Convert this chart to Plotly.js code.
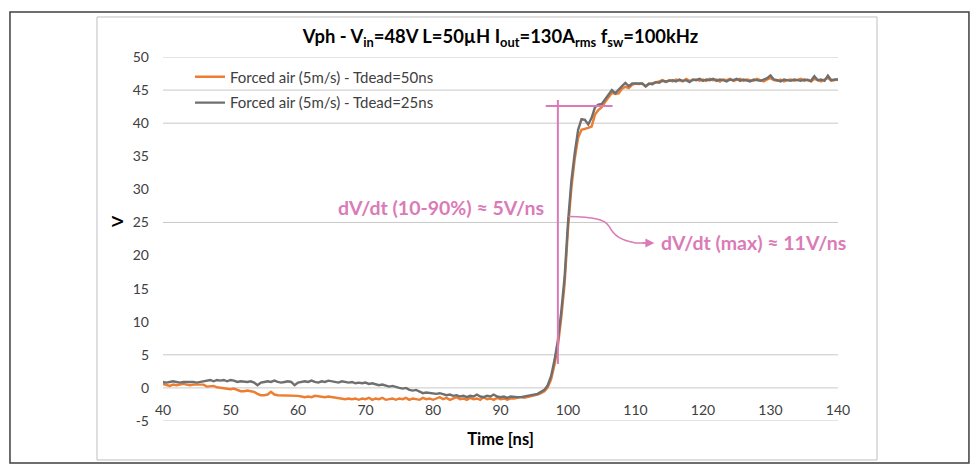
<!DOCTYPE html>
<html>
<head>
<meta charset="utf-8">
<script src="https://cdn.plot.ly/plotly-3.0.1.min.js"></script>
<style>
  html, body { margin: 0; padding: 0; background: #ffffff; }
  #chart { width: 977px; height: 467px; }
</style>
</head>
<body>
<div id="chart"></div>
<script>
// ---- data ----
const time = [
  40,40.5,41,41.5,42,42.5,43,43.5,44,44.5,
  45,45.5,46,46.5,47,47.5,48,48.5,49,49.5,
  50,50.5,51,51.5,52,52.5,53,53.5,54,54.5,
  55,55.5,56,56.5,57,57.5,58,58.5,59,59.5,
  60,60.5,61,61.5,62,62.5,63,63.5,64,64.5,
  65,65.5,66,66.5,67,67.5,68,68.5,69,69.5,
  70,70.5,71,71.5,72,72.5,73,73.5,74,74.5,
  75,75.5,76,76.5,77,77.5,78,78.5,79,79.5,
  80,80.5,81,81.5,82,82.5,83,83.5,84,84.5,
  85,85.5,86,86.5,87,87.5,88,88.5,89,89.5,
  90,90.5,91,91.5,92,92.5,93,93.5,94,94.5,
  95,95.5,96,96.5,97,97.5,98,98.5,99,99.5,
  100,100.5,101,101.5,102,102.5,103,103.5,104,104.5,
  105,105.5,106,106.5,107,107.5,108,108.5,109,109.5,
  110,110.5,111,111.5,112,112.5,113,113.5,114,114.5,
  115,115.5,116,116.5,117,117.5,118,118.5,119,119.5,
  120,120.5,121,121.5,122,122.5,123,123.5,124,124.5,
  125,125.5,126,126.5,127,127.5,128,128.5,129,129.5,
  130,130.5,131,131.5,132,132.5,133,133.5,134,134.5,
  135,135.5,136,136.5,137,137.5,138,138.5,139,139.5,
  140
];

const vTdead50 = [
  0.6,0.5,0.3,0.5,0.4,0.5,0.6,0.5,0.4,0.5,
  0.5,0.4,0.5,0.2,0.2,0.3,0.1,0.0,0.0,-0.2,
  -0.2,-0.1,-0.3,-0.5,-0.5,-0.4,-0.5,-0.6,-0.9,-1.1,
  -1.1,-1.0,-0.6,-1.0,-1.1,-1.1,-1.1,-1.2,-1.1,-1.1,
  -1.2,-1.3,-1.4,-1.3,-1.4,-1.2,-1.3,-1.4,-1.4,-1.3,
  -1.4,-1.4,-1.5,-1.6,-1.7,-1.6,-1.7,-1.6,-1.8,-1.6,
  -1.7,-1.5,-1.8,-1.6,-1.7,-1.5,-1.8,-1.7,-1.6,-1.8,
  -1.6,-1.7,-1.5,-1.8,-1.6,-1.7,-1.8,-1.5,-1.7,-1.6,
  -1.8,-1.6,-1.4,-1.7,-1.5,-1.8,-1.6,-1.4,-1.7,-1.6,
  -1.8,-1.5,-1.7,-1.6,-1.8,-1.4,-1.7,-1.6,-1.8,-1.5,
  -1.7,-1.6,-1.8,-1.6,-1.6,-1.5,-1.4,-1.5,-1.4,-1.3,
  -1.2,-1.0,-0.8,-0.5,0.1,1.3,3.5,6.3,10.6,15.7,
  24.0,30.2,34.6,37.8,39.0,39.1,39.3,39.5,41.3,42.0,
  42.4,43.2,44.0,44.6,44.4,44.5,45.2,45.5,45.3,45.8,
  46.0,45.9,46.0,45.5,45.9,46.0,46.2,46.3,46.5,46.2,
  46.5,46.3,46.6,46.5,46.3,46.7,46.4,46.5,46.6,46.4,
  46.6,46.4,46.7,46.5,46.6,46.3,46.6,46.5,46.7,46.4,
  46.5,46.7,46.4,46.6,46.5,46.4,46.7,46.5,46.3,46.6,
  46.8,46.5,46.4,46.6,46.3,46.5,46.6,46.4,46.5,46.7,
  46.4,46.6,46.3,46.7,46.5,46.3,46.6,46.8,46.4,46.5,
  46.6
];

const vTdead25 = [
  0.9,0.8,0.9,1.0,0.9,0.8,0.9,0.9,1.0,0.9,
  0.8,0.9,0.9,1.1,1.2,1.0,1.2,1.1,1.2,1.0,
  1.2,1.1,0.9,1.0,0.9,0.9,1.0,0.8,0.4,0.8,
  0.9,1.0,0.9,1.1,0.9,0.8,0.9,1.0,0.9,0.4,
  0.8,0.9,1.0,0.9,1.1,0.9,0.8,1.0,0.9,1.1,
  1.0,0.9,0.8,1.0,0.9,0.8,0.9,0.7,0.8,0.7,
  0.8,0.6,0.7,0.5,0.4,0.5,0.3,0.2,0.3,0.1,
  0.0,-0.1,0.0,-0.3,-0.4,-0.3,-0.6,-0.8,-0.7,-0.8,
  -0.8,-0.9,-0.8,-1.0,-1.1,-1.0,-1.2,-1.1,-1.3,-1.2,
  -1.4,-1.2,-1.3,-1.0,-1.3,-1.4,-1.2,-1.3,-1.0,-1.3,
  -1.4,-1.3,-1.5,-1.3,-1.4,-1.4,-1.4,-1.3,-1.3,-1.2,
  -1.0,-0.9,-0.6,-0.3,0.4,1.8,4.2,7.2,11.5,16.8,
  25.0,31.3,35.5,39.0,40.6,40.5,39.8,40.8,42.4,42.8,
  42.9,43.6,44.4,45.0,44.5,45.1,45.6,46.1,45.6,46.0,
  46.0,46.1,46.0,45.6,46.0,45.9,46.2,46.1,46.4,46.3,
  46.4,46.5,46.3,46.6,46.4,46.5,46.2,46.6,46.5,46.7,
  46.4,46.6,46.5,46.7,46.4,46.6,46.5,46.3,46.6,46.5,
  46.7,46.4,46.6,46.5,46.3,46.6,46.5,46.4,46.6,46.8,
  47.2,46.6,46.5,46.3,46.6,46.5,46.4,46.6,46.5,46.4,
  46.6,46.5,46.4,47.1,46.5,46.6,46.4,47.2,46.5,46.6,
  46.6
];

const seriesNames = ["Forced air (5m/s) - Tdead=50ns", "Forced air (5m/s) - Tdead=25ns"];
const xTickVals = [40, 50, 60, 70, 80, 90, 100, 110, 120, 130, 140];
const yTickVals = [-5, 0, 5, 10, 15, 20, 25, 30, 35, 40, 45, 50];
const visibleGridY = [-5, 0, 5, 25, 40, 45, 50];

// 10-90% marker (time ns, volts)
const riseMarkVertT = [98.5, 98.5];
const riseMarkVertV = [3.6, 43.5];
const riseMarkHorzT = [96.7, 106.6];
const riseMarkHorzV = [42.6, 42.6];
const labelRise = "dV/dt (10-90%) ≈ 5V/ns";
const labelMax = "dV/dt (max) ≈ 11V/ns";

// ---- styles ----
const FONT = "Lato, 'Open Sans', sans-serif";
const PINK = "#DA7BB8";
const GRID = "#C8C8C8";

const traces = [
  { x: time, y: vTdead50, type: "scatter", mode: "lines", name: seriesNames[0],
    line: { color: "#ED7D31", width: 2.4 }, legend: "legend" },
  { x: time, y: vTdead25, type: "scatter", mode: "lines", name: seriesNames[1],
    line: { color: "#6F6F6F", width: 2.4 }, legend: "legend2" }
];

const shapes = [];
// outer frame and chart-area frame (paper coords)
shapes.push({ type: "rect", xref: "paper", yref: "paper", x0: -0.2267, x1: 1.194, y0: -0.1154, y1: 1.1236,
  line: { color: "#3F3F3F", width: 1.5 }, layer: "below" });
shapes.push({ type: "rect", xref: "paper", yref: "paper", x0: -0.0978, x1: 1.0578, y0: -0.1071, y1: 1.1099,
  line: { color: "#BFBFBF", width: 1 }, layer: "below" });
visibleGridY.forEach(v => shapes.push({
  type: "line", xref: "paper", yref: "y", x0: 0, x1: 1, y0: v, y1: v,
  line: { color: GRID, width: 1 }, layer: "below"
}));
shapes.push({ type: "line", xref: "x", yref: "y", x0: riseMarkVertT[0], x1: riseMarkVertT[1],
  y0: riseMarkVertV[0], y1: riseMarkVertV[1], line: { color: PINK, width: 2 }, layer: "above" });
shapes.push({ type: "line", xref: "x", yref: "y", x0: riseMarkHorzT[0], x1: riseMarkHorzT[1],
  y0: riseMarkHorzV[0], y1: riseMarkHorzV[1], line: { color: PINK, width: 2 }, layer: "above" });
// curved leader for the max slope label
shapes.push({ type: "path", xref: "x", yref: "y",
  path: "M 100.1,25.9 C 103.5,25.8 105.4,25.6 106.1,24.4 C 106.8,23.0 107.8,22.3 110.0,21.9 L 111.5,21.9",
  line: { color: PINK, width: 1.5 }, layer: "above" });

const annotations = [
  { xref: "x", yref: "y", x: 112.8, y: 21.9, ax: 110.8, ay: 21.9, axref: "x", ayref: "y",
    text: "", showarrow: true, arrowhead: 2, arrowsize: 1.2, arrowwidth: 1.5, arrowcolor: PINK },
  { xref: "x", yref: "y", x: 96.8, y: 27.2, xanchor: "right", yanchor: "middle", showarrow: false,
    text: "<b>" + labelRise + "</b>", font: { family: FONT, size: 19.5, color: PINK } },
  { xref: "x", yref: "y", x: 113.5, y: 21.9, xanchor: "left", yanchor: "middle", showarrow: false,
    text: "<b>" + labelMax + "</b>", font: { family: FONT, size: 19.5, color: PINK } },
  { xref: "paper", yref: "paper", x: -0.068, y: 0.547, xanchor: "center", yanchor: "middle",
    showarrow: false, textangle: -90, text: "<b>V</b>", font: { family: FONT, size: 16, color: "#000" } }
];

const layout = {
  width: 977, height: 467,
  margin: { l: 163, r: 139, t: 57, b: 46 },
  paper_bgcolor: "#ffffff", plot_bgcolor: "#ffffff",
  font: { family: FONT, size: 14, color: "#404040" },
  title: {
    text: "<b>Vph - V<sub>in</sub>=48V L=50µH I<sub>out</sub>=130A<sub>rms</sub> f<sub>sw</sub>=100kHz</b>",
    font: { family: FONT, size: 18.4, color: "#000" }, x: 0.5, xref: "paper", xanchor: "center",
    y: 0.922, yref: "container", yanchor: "middle"
  },
  xaxis: {
    range: [40, 140], tickvals: xTickVals, ticktext: xTickVals.map(String),
    showgrid: false, zeroline: false, showline: false, ticks: "",
    anchor: "free", position: 5 / 55, ticklabelstandoff: 12,
    tickfont: { family: FONT, size: 14, color: "#404040" },
    title: { text: "<b>Time [ns]</b>", font: { family: FONT, size: 16.5, color: "#000" }, standoff: 16 }
  },
  yaxis: {
    range: [-5, 50], tickvals: yTickVals, ticktext: yTickVals.map(String),
    showgrid: false, zeroline: false, showline: false, ticks: "", ticklabelstandoff: 13,
    tickfont: { family: FONT, size: 14, color: "#404040" }
  },
  showlegend: true,
  legend: { x: 0.04, y: 0.945, xanchor: "left", yanchor: "middle", bgcolor: "rgba(0,0,0,0)",
    font: { family: FONT, size: 15, color: "#404040" }, itemwidth: 30 },
  legend2: { x: 0.04, y: 0.874, xanchor: "left", yanchor: "middle", bgcolor: "rgba(0,0,0,0)",
    font: { family: FONT, size: 15, color: "#404040" }, itemwidth: 30 },
  shapes: shapes,
  annotations: annotations
};

Plotly.newPlot("chart", traces, layout, { displayModeBar: false, staticPlot: true });
</script>
</body>
</html>
